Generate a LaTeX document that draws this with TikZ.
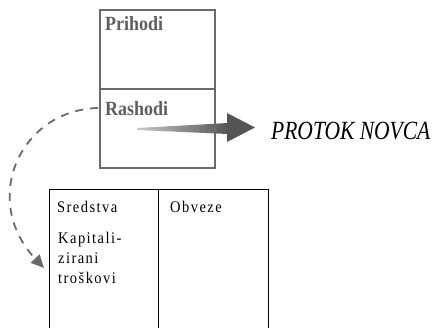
\documentclass[tikz,border=0pt]{standalone}
\usepackage{fontspec}
\setmainfont{Liberation Serif}
\newfontfamily\spacedfont[LetterSpace=10]{Liberation Serif}
\usetikzlibrary{arrows.meta}
\definecolor{boxgray}{HTML}{6A6A6A}
\definecolor{txtgray}{HTML}{5E5E5E}
\definecolor{dashgray}{HTML}{6A6A6A}
\definecolor{wedgedark}{HTML}{555555}
\definecolor{wedgelight}{HTML}{C8C8C8}
\newcommand{\tallA}[1]{\scalebox{1}[1.12]{#1}}
\newcommand{\tallB}[1]{\scalebox{1}[1.22]{#1}}
\begin{document}
\begin{tikzpicture}[x=1pt,y=-1pt,
  topbox/.style={draw=boxgray,line width=1.5pt,rectangle,anchor=north west,inner sep=0pt,outer sep=0pt,minimum width=115pt,minimum height=79pt},
  colbox/.style={draw=black,line width=0.9pt,rectangle,anchor=north west,inner sep=0pt,outer sep=0pt,minimum height=160pt},
  boldlbl/.style={anchor=base west,inner sep=0pt,text=txtgray,font=\bfseries\fontsize{18}{20}\selectfont},
  spacedlbl/.style={anchor=base west,inner sep=0pt,text=black,font=\spacedfont\fontsize{14.5}{20}\selectfont},
  dasharrow/.style={draw=dashgray,line width=1.8pt,dash pattern=on 8pt off 7pt,-{Triangle[length=13pt,width=12pt]}}
]
\clip (0,0) rectangle (436,327);
% wedge arrow (drawn first, box edge passes over it)
\shade[left color=wedgelight,right color=wedgedark] (137,128) -- (228,123) -- (228,134) -- (137,130) -- cycle;
\fill[wedgedark] (227,113) -- (255,127.5) -- (227,142) -- cycle;
% top boxes
\node[topbox] (prihodi) at (100,10) {};
\node[topbox] (rashodi) at (100,89) {};
\node[boldlbl] (ptxt) at (105,30.5) {\tallA{Prihodi}};
\node[boldlbl] (rtxt) at (105,115) {\tallA{Rashodi}};
% flow label
\node[anchor=base west,inner sep=0pt,font=\itshape\fontsize{21.5}{26}\selectfont] (protok) at (271,139) {\tallB{PROTOK NOVCA}};
% table
\node[colbox,minimum width=109pt] (sredstva) at (49,189) {};
\node[colbox,minimum width=110pt] (obveze) at (158,189) {};
\node[spacedlbl] (stxt) at (57,212) {\tallA{Sredstva}};
\node[spacedlbl] (otxt) at (170,212) {\tallA{Obveze}};
\node[spacedlbl] (k1) at (58,243) {\tallA{Kapitali-}};
\node[spacedlbl] (k2) at (58,263) {\tallA{zirani}};
\node[spacedlbl] (k3) at (58,283) {\tallA{troškovi}};
% dashed curved arrow
\coordinate (cs) at (98,108);
\coordinate (ce) at (44,268);
\draw[dasharrow] (cs) .. controls (20,110) and (-20,200) .. (ce);
\end{tikzpicture}
\end{document}
